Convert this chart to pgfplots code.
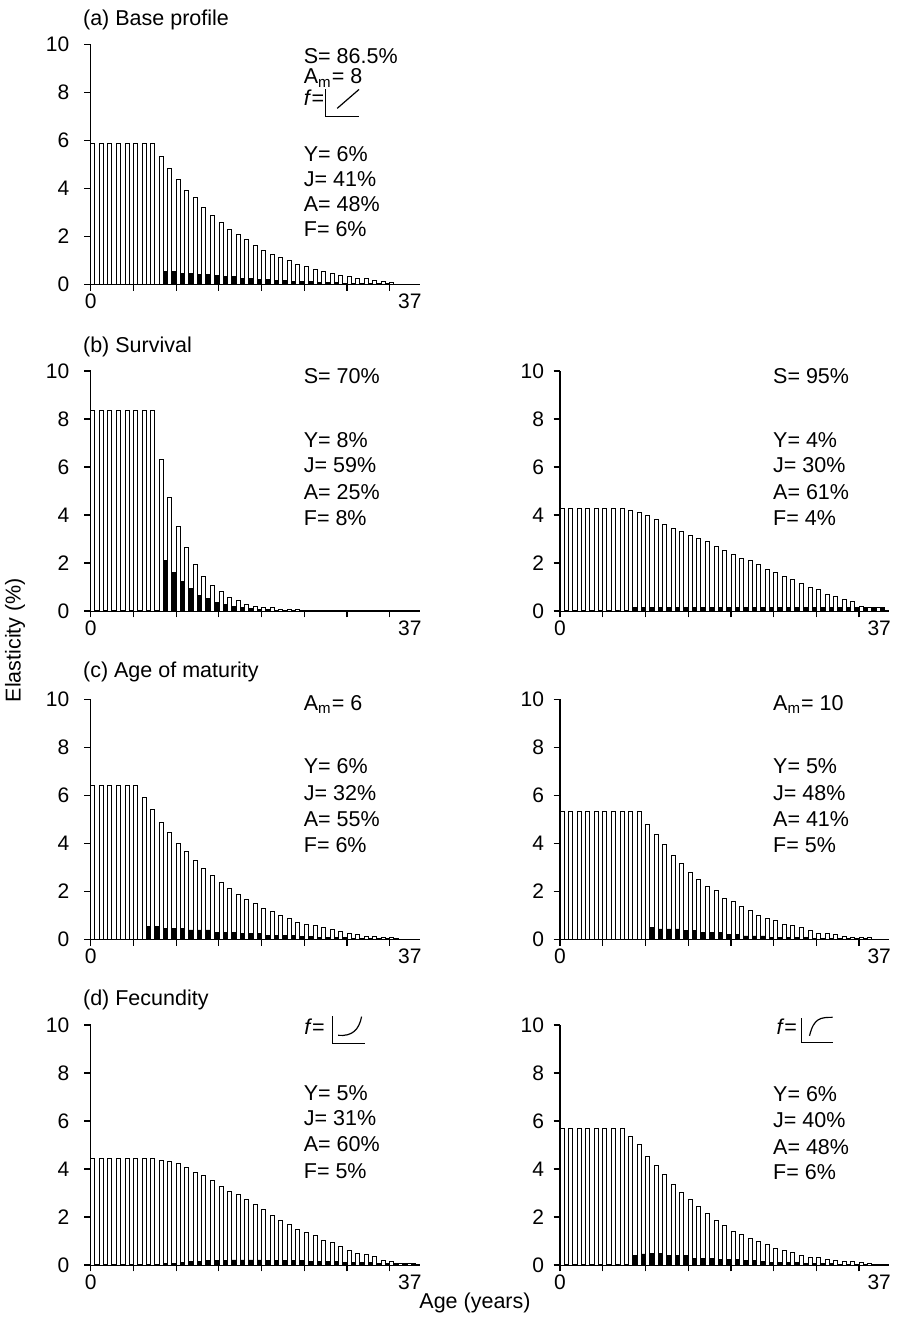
\documentclass[border=0pt]{standalone}
\usepackage{fontspec}
\setmainfont{Liberation Sans}
\usepackage{pgfplots}
\pgfplotsset{compat=1.18}
\usepackage{pgfplotstable}

% age, white bar (w), black bar (b); nan = no bar
\pgfplotstableread{
a w b
0 5.85 nan
1 5.85 nan
2 5.85 nan
3 5.85 nan
4 5.85 nan
5 5.85 nan
6 5.85 nan
7 5.85 nan
8 5.31 0.55
9 4.83 0.54
10 4.39 0.46
11 3.93 0.46
12 3.60 0.40
13 3.22 0.40
14 2.86 0.38
15 2.57 0.32
16 2.29 0.31
17 2.06 0.25
18 1.85 0.25
19 1.62 0.22
20 1.41 0.20
21 1.26 0.17
22 1.12 0.15
23 0.98 0.13
24 0.81 0.11
25 0.75 0.10
26 0.63 0.08
27 0.53 0.07
28 0.46 0.06
29 0.38 0.05
30 0.31 0.04
31 0.25 0.03
32 0.24 0.03
33 0.18 0.02
34 0.11 0.02
35 0.07 0.01
}\tA

\pgfplotstableread{
a w b
0 8.34 nan
1 8.34 nan
2 8.34 nan
3 8.34 nan
4 8.34 nan
5 8.34 nan
6 8.34 nan
7 8.34 nan
8 6.31 2.10
9 4.74 1.62
10 3.51 1.24
11 2.65 0.93
12 1.92 0.66
13 1.43 0.51
14 1.06 0.36
15 0.80 0.27
16 0.56 0.19
17 0.43 0.14
18 0.28 0.10
19 0.21 0.07
20 0.15 0.05
21 0.13 0.04
22 0.08 0.03
23 0.06 0.02
24 0.05 0.01
}\tBl

\pgfplotstableread{
a w b
0 4.29 nan
1 4.29 nan
2 4.29 nan
3 4.29 nan
4 4.29 nan
5 4.29 nan
6 4.29 nan
7 4.29 nan
8 4.18 0.14
9 4.12 0.14
10 3.97 0.14
11 3.83 0.14
12 3.59 0.14
13 3.45 0.14
14 3.31 0.14
15 3.15 0.14
16 3.02 0.14
17 2.90 0.14
18 2.67 0.14
19 2.51 0.14
20 2.37 0.14
21 2.21 0.14
22 2.09 0.14
23 1.92 0.14
24 1.74 0.14
25 1.60 0.14
26 1.43 0.14
27 1.31 0.14
28 1.16 0.14
29 1.00 0.14
30 0.88 0.14
31 0.71 0.14
32 0.61 0.14
33 0.50 0.14
34 0.38 0.14
35 0.21 0.14
36 0.15 0.14
37 0.15 0.14
}\tBr

\pgfplotstableread{
a w b
0 6.41 nan
1 6.41 nan
2 6.41 nan
3 6.41 nan
4 6.41 nan
5 6.41 nan
6 5.91 0.52
7 5.40 0.52
8 4.89 0.46
9 4.44 0.46
10 4.01 0.46
11 3.66 0.39
12 3.30 0.39
13 2.95 0.39
14 2.65 0.30
15 2.37 0.30
16 2.14 0.30
17 1.85 0.23
18 1.67 0.23
19 1.49 0.23
20 1.30 0.17
21 1.16 0.17
22 1.00 0.17
23 0.85 0.16
24 0.70 0.10
25 0.63 0.10
26 0.56 0.09
27 0.49 0.08
28 0.42 0.07
29 0.33 0.06
30 0.25 0.05
31 0.19 0.05
32 0.14 0.04
33 0.11 0.03
34 0.08 0.02
35 0.06 0.02
}\tCl

\pgfplotstableread{
a w b
0 5.33 nan
1 5.33 nan
2 5.33 nan
3 5.33 nan
4 5.33 nan
5 5.33 nan
6 5.33 nan
7 5.33 nan
8 5.33 nan
9 5.33 nan
10 4.80 0.50
11 4.39 0.43
12 3.97 0.43
13 3.50 0.43
14 3.15 0.36
15 2.79 0.36
16 2.51 0.27
17 2.20 0.27
18 2.02 0.27
19 1.71 0.20
20 1.59 0.20
21 1.35 0.14
22 1.21 0.14
23 0.99 0.14
24 0.85 0.09
25 0.78 0.09
26 0.63 0.08
27 0.56 0.07
28 0.49 0.06
29 0.36 0.05
30 0.26 0.05
31 0.26 0.04
32 0.19 0.03
33 0.13 0.03
34 0.08 0.02
35 0.07 0.02
36 0.06 0.01
}\tCr

\pgfplotstableread{
a w b
0 4.43 nan
1 4.43 nan
2 4.43 nan
3 4.43 nan
4 4.43 nan
5 4.43 nan
6 4.43 nan
7 4.43 nan
8 4.37 0.06
9 4.30 0.08
10 4.25 0.12
11 4.08 0.14
12 3.87 0.15
13 3.73 0.17
14 3.51 0.19
15 3.29 0.20
16 3.08 0.21
17 2.95 0.21
18 2.72 0.21
19 2.51 0.21
20 2.30 0.20
21 2.08 0.20
22 1.84 0.19
23 1.71 0.18
24 1.49 0.17
25 1.36 0.16
26 1.23 0.15
27 1.04 0.14
28 0.92 0.13
29 0.79 0.12
30 0.61 0.11
31 0.49 0.10
32 0.42 0.09
33 0.35 0.08
34 0.21 0.07
35 0.13 0.06
36 0.08 0.05
37 0.06 0.05
}\tDl

\pgfplotstableread{
a w b
0 5.67 nan
1 5.67 nan
2 5.67 nan
3 5.67 nan
4 5.67 nan
5 5.67 nan
6 5.67 nan
7 5.67 nan
8 5.37 0.40
9 5.01 0.46
10 4.54 0.47
11 4.13 0.47
12 3.76 0.40
13 3.37 0.40
14 3.02 0.40
15 2.72 0.29
16 2.44 0.29
17 2.13 0.29
18 1.84 0.23
19 1.63 0.23
20 1.40 0.23
21 1.28 0.17
22 1.12 0.17
23 0.98 0.14
24 0.84 0.12
25 0.67 0.11
26 0.59 0.10
27 0.53 0.09
28 0.39 0.08
29 0.32 0.07
30 0.31 0.06
31 0.24 0.05
32 0.17 0.04
33 0.15 0.03
34 0.14 0.03
35 0.11 0.02
36 0.08 0.02
}\tDr

\newcommand\txt{\fontsize{10.75}{12.8}\selectfont}
\newcommand\ann[3]{\node[anchor=base west, font=\txt, inner sep=0pt] at (axis cs:#1,#2) {#3};}

\pgfplotsset{
  panel/.style={
    scale only axis, width=164.5pt, height=120pt,
    anchor=south west,
    xmin=0, xmax=38.5, ymin=0, ymax=10,
    axis lines*=left,
    axis line style={line width=0.65pt},
    xtick={0,5,...,35}, xticklabels={0,,,,,,,},
    extra x ticks={37.35}, extra x tick labels={37},
    extra x tick style={major tick style={draw=none}},
    ytick={0,2,...,10},
    tick align=outside, major tick length=3.2pt,
    tick style={black, line width=0.6pt},
    every tick label/.append style={font=\fontsize{10.5}{12}\selectfont},
    xticklabel style={yshift=2pt},
    /pgf/number format/assume math mode=true,
    ybar, bar width=0.47,
    clip=false,
  },
  leftcol/.style={yticklabel style={xshift=-4pt}},
  rightcol/.style={yticklabel style={xshift=-1.3pt}},
  wbar/.style={draw=black, fill=white, line width=0.45pt, bar shift=0.25},
  kbar/.style={draw=black, fill=black, line width=0.45pt, bar shift=0.75},
}

\begin{document}
\begin{tikzpicture}
\path[use as bounding box] (0,0) rectangle (449.5pt,-659.5pt);

% (a) base profile
\begin{axis}[panel, leftcol, at={(45.35pt,-142.15pt)}]
\addplot[wbar] table[x=a,y=w] {\tA};
\addplot[kbar] table[x=a,y=b] {\tA};
\ann{24.9}{9.2}{S= 86.5\%}
\ann{24.9}{8.35}{A\textsubscript{m}= 8}
\ann{24.9}{7.45}{\textit{f}=}
\draw[line width=0.6pt] (axis cs:27.5,8.12) -- (axis cs:27.5,7.0) -- (axis cs:31.4,7.0);
\draw[line width=0.6pt] (axis cs:28.84,7.33) -- (axis cs:31.4,8.12);
\ann{24.9}{5.1}{Y= 6\%}
\ann{24.9}{4.08}{J= 41\%}
\ann{24.9}{3.03}{A= 48\%}
\ann{24.9}{1.98}{F= 6\%}
\end{axis}

% (b) survival, left
\begin{axis}[panel, leftcol, at={(45.35pt,-305.5pt)}]
\addplot[wbar] table[x=a,y=w] {\tBl};
\addplot[kbar] table[x=a,y=b] {\tBl};
\ann{24.9}{9.48}{S= 70\%}
\ann{24.9}{6.82}{Y= 8\%}
\ann{24.9}{5.76}{J= 59\%}
\ann{24.9}{4.65}{A= 25\%}
\ann{24.9}{3.57}{F= 8\%}
\end{axis}

% (b) survival, right
\begin{axis}[panel, rightcol, at={(280pt,-305.5pt)}]
\addplot[wbar] table[x=a,y=w] {\tBr};
\addplot[kbar] table[x=a,y=b] {\tBr};
\ann{24.9}{9.48}{S= 95\%}
\ann{24.9}{6.82}{Y= 4\%}
\ann{24.9}{5.76}{J= 30\%}
\ann{24.9}{4.65}{A= 61\%}
\ann{24.9}{3.57}{F= 4\%}
\end{axis}

% (c) age of maturity, left
\begin{axis}[panel, leftcol, at={(45.35pt,-469.65pt)}]
\addplot[wbar] table[x=a,y=w] {\tCl};
\addplot[kbar] table[x=a,y=b] {\tCl};
\ann{24.9}{9.55}{A\textsubscript{m}= 6}
\ann{24.9}{6.9}{Y= 6\%}
\ann{24.9}{5.8}{J= 32\%}
\ann{24.9}{4.72}{A= 55\%}
\ann{24.9}{3.6}{F= 6\%}
\end{axis}

% (c) age of maturity, right
\begin{axis}[panel, rightcol, at={(280pt,-469.65pt)}]
\addplot[wbar] table[x=a,y=w] {\tCr};
\addplot[kbar] table[x=a,y=b] {\tCr};
\ann{24.9}{9.55}{A\textsubscript{m}= 10}
\ann{24.9}{6.9}{Y= 5\%}
\ann{24.9}{5.8}{J= 48\%}
\ann{24.9}{4.72}{A= 41\%}
\ann{24.9}{3.6}{F= 5\%}
\end{axis}

% (d) fecundity, left
\begin{axis}[panel, leftcol, at={(45.35pt,-632.5pt)}]
\addplot[wbar] table[x=a,y=w] {\tDl};
\addplot[kbar] table[x=a,y=b] {\tDl};
\ann{24.95}{9.6}{\textit{f}=}
\draw[line width=0.6pt] (axis cs:28.3,10.36) -- (axis cs:28.3,9.24) -- (axis cs:32.1,9.24);
\draw[line width=0.6pt] (axis cs:28.96,9.57) .. controls (axis cs:30.6,9.52) and (axis cs:31.4,9.8) .. (axis cs:31.7,10.35);
\ann{24.9}{6.87}{Y= 5\%}
\ann{24.9}{5.82}{J= 31\%}
\ann{24.9}{4.71}{A= 60\%}
\ann{24.9}{3.6}{F= 5\%}
\end{axis}

% (d) fecundity, right
\begin{axis}[panel, rightcol, at={(280pt,-632.5pt)}]
\addplot[wbar] table[x=a,y=w] {\tDr};
\addplot[kbar] table[x=a,y=b] {\tDr};
\ann{25.3}{9.6}{\textit{f}=}
\draw[line width=0.6pt] (axis cs:28.27,10.28) -- (axis cs:28.27,9.27) -- (axis cs:31.96,9.27);
\draw[line width=0.6pt] (axis cs:29.2,9.55) .. controls (axis cs:29.7,10.3) and (axis cs:30.5,10.32) .. (axis cs:31.9,10.32);
\ann{24.9}{6.8}{Y= 6\%}
\ann{24.9}{5.74}{J= 40\%}
\ann{24.9}{4.62}{A= 48\%}
\ann{24.9}{3.55}{F= 6\%}
\end{axis}

% panel titles and shared labels
\node[anchor=base west, font=\txt, inner sep=0pt] at (41.35pt,-12.5pt) {(a) Base profile};
\node[anchor=base west, font=\txt, inner sep=0pt] at (41.35pt,-176.2pt) {(b) Survival};
\node[anchor=base west, font=\txt, inner sep=0pt] at (41.35pt,-338.7pt) {(c) Age of maturity};
\node[anchor=base west, font=\txt, inner sep=0pt] at (41.35pt,-502.9pt) {(d) Fecundity};
\node[font=\txt, rotate=90, inner sep=0pt] at (7.5pt,-320pt) {Elasticity (\%)};
\node[font=\txt, inner sep=0pt] at (237.5pt,-651.5pt) {Age (years)};
\end{tikzpicture}
\end{document}
